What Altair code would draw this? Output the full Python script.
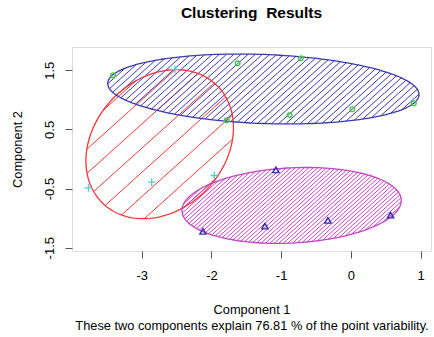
import numpy as np
import pandas as pd
import altair as alt

# ---------------- data ----------------
# cluster points (Component 1, Component 2)
green_x = [-3.411, -1.624, -0.716, -0.878, 0.021, 0.904, -1.781]
green_y = [1.416, 1.618, 1.703, 0.745, 0.841, 0.943, 0.655]
cyan_x = [-2.523, -3.764, -2.857, -1.958]
cyan_y = [1.517, -0.488, -0.392, -0.279]
tri_x = [-1.075, -2.121, -1.232, -0.329, 0.570]
tri_y = [-0.184, -1.225, -1.135, -1.039, -0.949]

# cluster ellipses: centre and covariance-like shape matrix (data units)
ell_names = ["red", "blue", "magenta"]
ell_cx = [-2.742, -1.2545, -0.8495]
ell_cy = [0.250, 1.184, -0.7855]
ell_vx = [1.120, 4.986, 2.474]
ell_cov = [0.2985, -0.208, 0.133]
ell_vy = [1.588, 0.3495, 0.412]
ell_colors = ["#F03838", "#3A3AAE", "#C445C4"]

x_ticks = [-3, -2, -1, 0, 1]
y_ticks = [-1.5, -1.0, -0.5, 0.0, 0.5, 1.0, 1.5]

# ---------------- layout / style ----------------
W, H = 359, 204
XDOM = [-4.0, 1.15]
YDOM = [-1.556, 1.894]
FONT = "Liberation Sans"
hatch_gap_px = [18.0, 4.8, 3.0]
hatch_angle = np.deg2rad(42)

kx = W / (XDOM[1] - XDOM[0])
ky = H / (YDOM[1] - YDOM[0])

outline_rows = []
hatch_rows = []
tt = np.linspace(0, 2 * np.pi, 181)
d = np.array([np.cos(hatch_angle), np.sin(hatch_angle)])
nrm = np.array([-np.sin(hatch_angle), np.cos(hatch_angle)])
for i, name in enumerate(ell_names):
    S = np.array([[ell_vx[i], ell_cov[i]], [ell_cov[i], ell_vy[i]]])
    D = np.diag([kx, ky])
    Spx = D @ S @ D
    L = np.linalg.cholesky(Spx)
    pts = L @ np.vstack([np.cos(tt), np.sin(tt)])
    for j in range(len(tt)):
        outline_rows.append({"grp": name, "i": j,
                             "x": ell_cx[i] + pts[0, j] / kx,
                             "y": ell_cy[i] + pts[1, j] / ky})
    Sinv = np.linalg.inv(Spx)
    a = d @ Sinv @ d
    ext = np.sqrt(nrm @ Spx @ nrm)
    gap = hatch_gap_px[i]
    kmax = int(np.ceil(ext / gap)) + 1
    for k in range(-kmax, kmax + 1):
        s = (k + 0.5) * gap
        b = s * (nrm @ Sinv @ d)
        c = s * s * (nrm @ Sinv @ nrm) - 1
        disc = b * b - a * c
        if disc <= 0:
            continue
        u1 = (-b - np.sqrt(disc)) / a
        u2 = (-b + np.sqrt(disc)) / a
        p1 = s * nrm + u1 * d
        p2 = s * nrm + u2 * d
        hatch_rows.append({"grp": name,
                           "x": ell_cx[i] + p1[0] / kx, "y": ell_cy[i] + p1[1] / ky,
                           "x2": ell_cx[i] + p2[0] / kx, "y2": ell_cy[i] + p2[1] / ky})

outline_df = pd.DataFrame(outline_rows)
hatch_df = pd.DataFrame(hatch_rows)

xscale = alt.Scale(domain=XDOM, nice=False, zero=False)
yscale = alt.Scale(domain=YDOM, nice=False, zero=False)
cscale = alt.Scale(domain=ell_names, range=ell_colors)

xaxis = alt.Axis(values=x_ticks, labelExpr="'' + datum.value", grid=False, domain=False,
                 tickSize=7, tickColor="#555555", labelFont=FONT, labelFontSize=13,
                 labelColor="black", labelPadding=11, labelFlush=False,
                 title=["Component 1",
                        "These two components explain 76.81 % of the point variability."],
                 titleFont=FONT, titleFontSize=12.8, titleFontWeight="normal",
                 titleColor="black", titleY=52, titleBaseline="top", titleLineHeight=16.5)
yaxis = alt.Axis(values=y_ticks,
                 labelExpr="abs(datum.value % 1) == 0.5 ? '' + datum.value : ''",
                 grid=False, domain=False, tickSize=7, tickColor="#555555",
                 labelFont=FONT, labelFontSize=13, labelColor="black",
                 labelAngle=-90, labelAlign="center", labelBaseline="middle",
                 labelPadding=16, labelFlush=False,
                 title="Component 2", titleFont=FONT, titleFontSize=12.8,
                 titleFontWeight="normal", titleColor="black",
                 titleX=-55, titleY=H / 2, titleAngle=-90, titleAlign="center",
                 titleBaseline="middle")

hatch = alt.Chart(hatch_df).mark_rule(strokeWidth=1).encode(
    x=alt.X("x:Q", scale=xscale, axis=xaxis),
    y=alt.Y("y:Q", scale=yscale, axis=yaxis),
    x2="x2:Q", y2="y2:Q",
    color=alt.Color("grp:N", scale=cscale, legend=None),
)
outline = alt.Chart(outline_df).mark_line(strokeWidth=1.3).encode(
    x=alt.X("x:Q", scale=xscale),
    y=alt.Y("y:Q", scale=yscale),
    order="i:Q",
    detail="grp:N",
    color=alt.Color("grp:N", scale=cscale, legend=None),
)

green_df = pd.DataFrame({"x": green_x, "y": green_y})
cyan_df = pd.DataFrame({"x": cyan_x, "y": cyan_y})
tri_df = pd.DataFrame({"x": tri_x, "y": tri_y})

circles = alt.Chart(green_df).mark_point(shape="circle", filled=False, size=22,
                                         strokeWidth=1.4, color="#44C844", opacity=1).encode(
    x=alt.X("x:Q", scale=xscale), y=alt.Y("y:Q", scale=yscale))
pluses = alt.Chart(cyan_df).mark_point(shape="M-1,0L1,0M0,-1L0,1", filled=False, size=60,
                                       strokeWidth=1.3, color="#55CCCC", opacity=1).encode(
    x=alt.X("x:Q", scale=xscale), y=alt.Y("y:Q", scale=yscale))
tris = alt.Chart(tri_df).mark_point(shape="triangle-up", filled=False, size=40,
                                    strokeWidth=1.4, color="#3030B0", opacity=1).encode(
    x=alt.X("x:Q", scale=xscale), y=alt.Y("y:Q", scale=yscale))

chart = alt.layer(hatch, outline, circles, pluses, tris).properties(
    width=W, height=H,
    title=alt.Title("Clustering\u00a0 Results", font=FONT, fontSize=15.5, fontWeight="bold",
                    color="black", anchor="middle", baseline="alphabetic", offset=13.4),
    autosize=alt.AutoSizeParams(type="none"),
    padding={"left": 72, "top": 47, "right": 3, "bottom": 86},
).configure_view(stroke="#555555", strokeWidth=1.3).configure(background="white")

chart.save("out.html", embed_options={"renderer": "svg", "actions": False})
